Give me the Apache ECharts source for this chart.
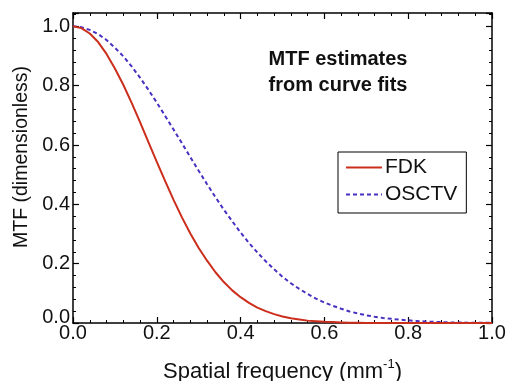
<!DOCTYPE html>
<html>
<head>
<meta charset="utf-8">
<script src="https://cdn.jsdelivr.net/npm/echarts@6/dist/echarts.min.js"></script>
<style>
  html, body { margin: 0; padding: 0; background: #fff; }
  #chart { width: 514px; height: 381px; }
</style>
</head>
<body>
<div id="chart"></div>
<script>
// spatial frequency (mm^-1)
const freq = [
  0.00, 0.02, 0.04, 0.06, 0.08, 0.10, 0.12, 0.14, 0.16, 0.18,
  0.20, 0.22, 0.24, 0.26, 0.28, 0.30, 0.32, 0.34, 0.36, 0.38,
  0.40, 0.42, 0.44, 0.46, 0.48, 0.50, 0.52, 0.54, 0.56, 0.58,
  0.60, 0.62, 0.64, 0.66, 0.68, 0.70, 0.72, 0.74, 0.76, 0.78,
  0.80, 0.82, 0.84, 0.86, 0.88, 0.90, 0.92, 0.94, 0.96, 0.98, 1.00
];
const fdk = [
  1.000, 0.994, 0.976, 0.947, 0.907, 0.858, 0.803, 0.742, 0.677, 0.610,
  0.543, 0.478, 0.415, 0.356, 0.302, 0.253, 0.210, 0.171, 0.138, 0.110,
  0.087, 0.068, 0.052, 0.040, 0.030, 0.022, 0.016, 0.012, 0.008, 0.006,
  0.004, 0.003, 0.002, 0.001, 0.001, 0.000, 0.000, 0.000, 0.000, 0.000,
  0.000, 0.000, 0.000, 0.000, 0.000, 0.000, 0.000, 0.000, 0.000, 0.000, 0.000
];
const osctv = [
  1.000, 0.997, 0.988, 0.974, 0.954, 0.928, 0.899, 0.865, 0.827, 0.786,
  0.743, 0.698, 0.652, 0.606, 0.559, 0.513, 0.468, 0.424, 0.382, 0.343,
  0.305, 0.270, 0.238, 0.208, 0.181, 0.156, 0.134, 0.115, 0.098, 0.082,
  0.069, 0.058, 0.048, 0.039, 0.032, 0.026, 0.021, 0.017, 0.014, 0.011,
  0.009, 0.007, 0.005, 0.004, 0.003, 0.002, 0.002, 0.001, 0.001, 0.001, 0.001
];
const seriesNames = ["FDK", "OSCTV"];

const FONT = "Liberation Sans, Arial, sans-serif";
const pair = (ys) => freq.map((x, i) => [x, ys[i]]);

const chart = echarts.init(document.getElementById("chart"), null, { renderer: "canvas" });

const tickStyle = {
  axisLine: { show: true, onZero: false, lineStyle: { color: "#000", width: 1.5 } },
  axisTick: { show: true, inside: true, length: 6, lineStyle: { color: "#000", width: 1.2 } },
  minorTick: { show: true, splitNumber: 5, length: 3, lineStyle: { color: "#000", width: 1 } },
  splitLine: { show: false },
};

chart.setOption({
  animation: false,
  backgroundColor: "#fff",
  title: {
    text: "MTF estimates\nfrom curve fits",
    left: 333,
    top: 41,
    textAlign: "center",
    textStyle: { fontFamily: FONT, fontSize: 20, fontWeight: "bold", color: "#111", lineHeight: 26 },
  },
  legend: {
    data: seriesNames,
    orient: "vertical",
    left: 338,
    top: 152,
    padding: [5, 9, 8, 7],
    itemWidth: 36,
    itemHeight: 19,
    itemGap: 6,
    borderColor: "#000",
    borderWidth: 1,
    itemStyle: { opacity: 0 },
    textStyle: { fontFamily: FONT, fontSize: 21, lineHeight: 19, color: "#111", padding: [0, 0, 0, -2] },
  },
  grid: { left: 73, right: 22, top: 13, bottom: 58, outerBoundsMode: "none" },
  xAxis: [
    {
      type: "value", min: 0, max: 1, interval: 0.2, position: "bottom",
      name: "Spatial frequency (mm{sup|-1})",
      nameLocation: "middle", nameGap: 35,
      nameTextStyle: {
        fontFamily: FONT, fontSize: 22, color: "#111",
        rich: { sup: { fontFamily: FONT, fontSize: 13, verticalAlign: "top", padding: [0, 0, 14, 0], color: "#111" } },
      },
      axisLabel: { fontFamily: FONT, fontSize: 20, color: "#111", margin: 0, formatter: (v) => v.toFixed(1) },
      ...tickStyle,
    },
    {
      type: "value", min: 0, max: 1, interval: 0.2, position: "top",
      axisLabel: { show: false },
      ...tickStyle,
    },
  ],
  yAxis: [
    {
      type: "value", min: 0, max: 1.045, interval: 0.2, position: "left",
      name: "MTF (dimensionless)",
      nameLocation: "middle", nameGap: 28,
      nameTextStyle: { fontFamily: FONT, fontSize: 19.5, color: "#111", padding: [0, 0, 0, 22] },
      axisLabel: {
        fontFamily: FONT, fontSize: 20, color: "#111", margin: 3, showMaxLabel: false,
        formatter: (v) => (v === 0 ? "{z|0.0}" : v.toFixed(1)),
        rich: { z: { fontFamily: FONT, fontSize: 20, color: "#111", padding: [0, 0, 12, 0] } },
      },
      ...tickStyle,
    },
    {
      type: "value", min: 0, max: 1.045, interval: 0.2, position: "right",
      axisLabel: { show: false },
      ...tickStyle,
    },
  ],
  series: [
    {
      name: seriesNames[0], type: "line", data: pair(fdk), showSymbol: false, symbol: "none",
      smooth: false, lineStyle: { color: "#cc2e1c", width: 2 }, itemStyle: { color: "#cc2e1c" },
      z: 3,
    },
    {
      name: seriesNames[1], type: "line", data: pair(osctv), showSymbol: false, symbol: "none",
      smooth: false, lineStyle: { color: "#4a30c0", width: 2, type: [4, 3] }, itemStyle: { color: "#4a30c0" },
      z: 2,
    },
  ],
});
</script>
</body>
</html>
